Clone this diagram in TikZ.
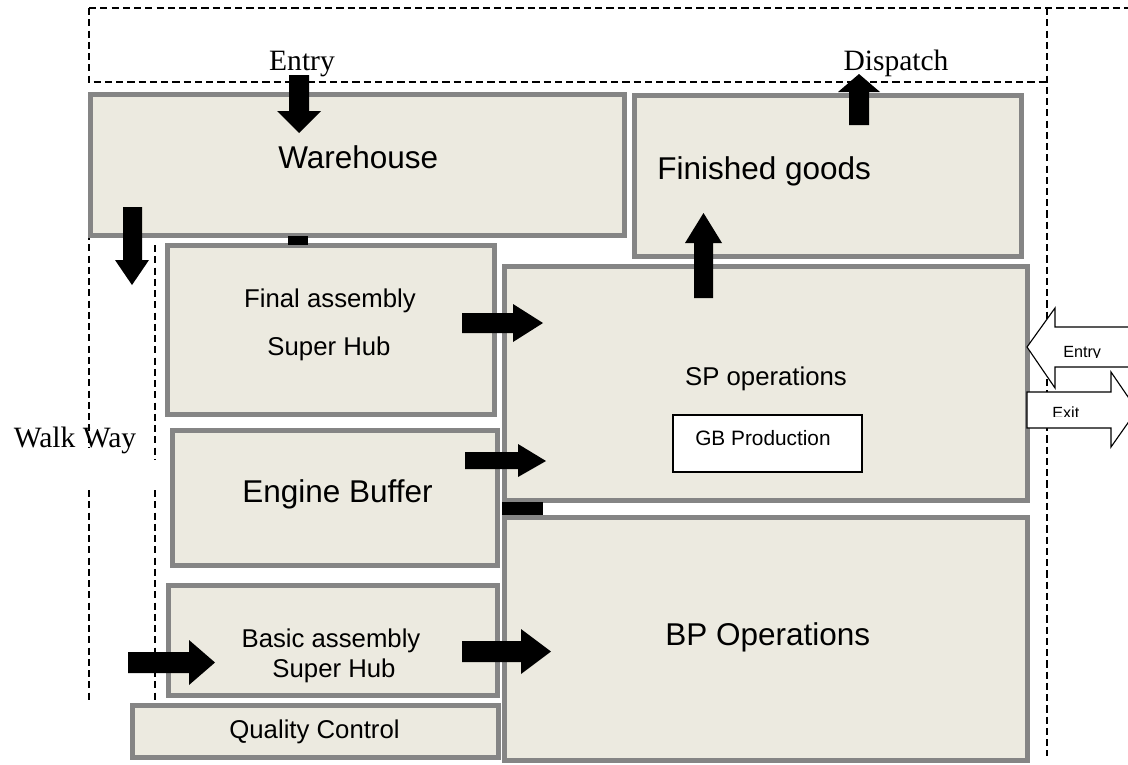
\documentclass[tikz,border=0pt]{standalone}
\usepackage{fontspec}
\setmainfont{Liberation Sans}
\newfontfamily\plainserif{Liberation Serif}
\definecolor{zonegray}{RGB}{133,133,133}
\definecolor{zonefill}{RGB}{236,234,224}
\begin{document}
\begin{tikzpicture}[x=0.025cm,y=-0.025cm,line join=miter,
		zone/.style={draw=zonegray,fill=zonefill,line width=3.4pt},
		walk/.style={dash pattern=on 5pt off 3pt,line width=0.9pt},
		blk/.style={fill=black},
		hollow/.style={draw=black,fill=white,line width=0.8pt},
		lbl/.style={inner sep=0pt,anchor=base},
		big/.style={lbl,font=\fontsize{22.4}{26}\selectfont},
		mid/.style={lbl,font=\fontsize{18.3}{22}\selectfont},
		small/.style={lbl,font=\fontsize{14.8}{18}\selectfont},
		tiny/.style={lbl,anchor=base west,font=\fontsize{11.5}{14}\selectfont},
		serif/.style={lbl,font=\plainserif\fontsize{21}{25}\selectfont}]
	\useasboundingbox (0,0) rectangle (1128,764);
	% outer lines and walk way
	\draw[walk] (89,8) -- (1135,8);
	\draw[walk] (89,8) -- (89,82) -- (1047,82);
	\draw[walk] (1047,8) -- (1047,756);
	\draw[walk] (89,233) -- (89,448) (89,490) -- (89,703);
	\draw[walk] (155,245) -- (155,460) (155,490) -- (155,703);
	\node[serif] (walkway) at (75,447) {Walk Way};
	\node[serif] (entry) at (302,70) {Entry};
	\node[serif] (dispatch) at (896,70) {Dispatch};
	% zones
	\draw[zone] (90.5,94.5) rectangle (624.5,235.5);
	\draw[zone] (634.5,95.5) rectangle (1021.5,256.5);
	\draw[zone] (167.5,245.5) rectangle (494.5,414.5);
	\draw[zone] (504.5,266.5) rectangle (1027.5,500.5);
	\draw[zone] (172.5,430.5) rectangle (497.5,565.5);
	\draw[zone] (504.5,517.5) rectangle (1027.5,760.5);
	\draw[zone] (168.5,585.5) rectangle (497.5,695.5);
	\draw[zone] (132.5,705.5) rectangle (498.5,757.5);
	\draw[fill=white,line width=0.8pt] (673,415) rectangle (862,472);
	\node[big,anchor=base west] (warehouse) at (278,168) {Warehouse};
	\node[big,anchor=base west] (finished) at (657,179) {Finished goods};
	\node[mid] (final) at (330,307) {Final assembly};
	\node[mid] (finalhub) at (329,355) {Super Hub};
	\node[mid] (sp) at (766,385) {SP operations};
	\node[small,anchor=base west] (gb) at (695,445) {GB Production};
	\node[big,anchor=base west] (engine) at (242,502) {Engine Buffer};
	\node[big,anchor=base west] (bp) at (665,645) {BP Operations};
	\node[mid] (basic) at (331,647) {Basic assembly};
	\node[mid] (basichub) at (334,677) {Super Hub};
	\node[mid] (qc) at (314.5,738) {Quality Control};
	% links between zones
	\fill[blk] (288,236) rectangle (308,245);
	\fill[blk] (502,502) rectangle (543,515);
	% flow arrows
	\fill[blk] (289,75) -- (309,75) -- (309,111) -- (321,111) -- (299,133) -- (277,111) -- (289,111) -- cycle;
	\fill[blk] (123,207) -- (142,207) -- (142,260) -- (149,260) -- (132,285) -- (115,260) -- (123,260) -- cycle;
	\fill[blk] (849,125) -- (869,125) -- (869,92) -- (880,92) -- (859,74) -- (838,92) -- (849,92) -- cycle;
	\fill[blk] (694,298) -- (713,298) -- (713,243) -- (722,243) -- (703.5,213) -- (685,243) -- (694,243) -- cycle;
	\fill[blk] (462,313) -- (513,313) -- (513,304) -- (543,323) -- (513,342) -- (513,333) -- (462,333) -- cycle;
	\fill[blk] (465,452) -- (518,452) -- (518,444) -- (546,461) -- (518,477) -- (518,469) -- (465,469) -- cycle;
	\fill[blk] (462,641) -- (521,641) -- (521,629) -- (551,651.5) -- (521,674) -- (521,662) -- (462,662) -- cycle;
	\fill[blk] (128,652) -- (189,652) -- (189,640) -- (215,662.5) -- (189,685) -- (189,673) -- (128,673) -- cycle;
	% side doors
	\draw[hollow] (1027,347) -- (1055,308) -- (1055,327) -- (1140,327) -- (1140,367) -- (1055,367) -- (1055,388) -- cycle;
	\draw[hollow] (1027,392) -- (1111,392) -- (1111,372) -- (1137,410) -- (1111,447) -- (1111,428) -- (1027,428) -- cycle;
	\begin{scope}
		\clip (1055,327) rectangle (1135,357);
		\node[tiny] (doorin) at (1063,357) {Entry};
	\end{scope}
	\begin{scope}
		\clip (1030,392) rectangle (1110,416);
		\node[tiny] (doorout) at (1052,418) {Exit};
	\end{scope}
\end{tikzpicture}
\end{document}
